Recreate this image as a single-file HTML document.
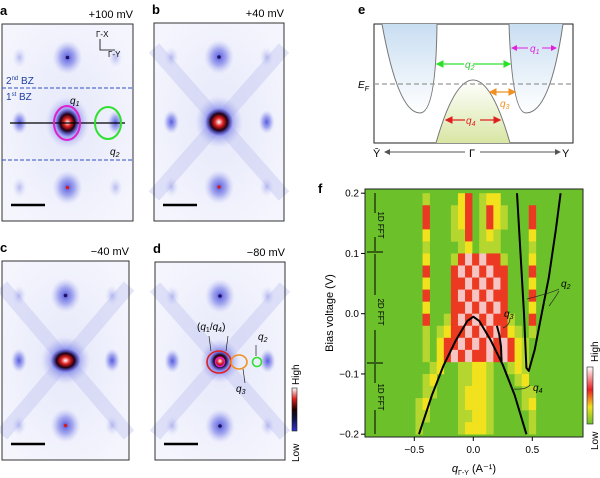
<!DOCTYPE html>
<html><head><meta charset="utf-8">
<style>
body{margin:0;background:#fff;width:600px;height:478px;overflow:hidden;font-family:"Liberation Sans",sans-serif}
svg{position:absolute;left:0;top:0}
</style></head>
<body>
<svg id="fig" width="600" height="478" viewBox="0 0 600 478" font-family="Liberation Sans, sans-serif">
<defs>
<radialGradient id="bg" cx="50%" cy="50%" r="60%"><stop offset="0" stop-color="#e6e8fa"/><stop offset="1" stop-color="#f4f5fd"/></radialGradient>
<radialGradient id="blob" cx="50%" cy="50%" r="50%"><stop offset="0" stop-color="#3b3fd8"/><stop offset="0.5" stop-color="#7d82e8" stop-opacity="0.75"/><stop offset="1" stop-color="#b8bcf2" stop-opacity="0"/></radialGradient>
<radialGradient id="core" cx="50%" cy="50%" r="50%"><stop offset="0" stop-color="#fff"/><stop offset="0.3" stop-color="#e02020"/><stop offset="0.6" stop-color="#200010"/><stop offset="1" stop-color="#2a2ad0" stop-opacity="0"/></radialGradient>
<radialGradient id="faint" cx="50%" cy="50%" r="50%"><stop offset="0" stop-color="#9094e8"/><stop offset="1" stop-color="#c8cbf4" stop-opacity="0"/></radialGradient>
<linearGradient id="cbar" x1="0" y1="1" x2="0" y2="0"><stop offset="0" stop-color="#3030d0"/><stop offset="0.3" stop-color="#101040"/><stop offset="0.5" stop-color="#200000"/><stop offset="0.75" stop-color="#e02020"/><stop offset="1" stop-color="#fff"/></linearGradient>
<linearGradient id="cbar2" x1="0" y1="1" x2="0" y2="0"><stop offset="0" stop-color="#6cc02a"/><stop offset="0.3" stop-color="#f0e020"/><stop offset="0.6" stop-color="#e82020"/><stop offset="1" stop-color="#fff"/></linearGradient>
<linearGradient id="blue" x1="0" y1="0" x2="0" y2="1"><stop offset="0" stop-color="#c9def2"/><stop offset="1" stop-color="#fff"/></linearGradient>
<linearGradient id="greenf" x1="0" y1="1" x2="0" y2="0"><stop offset="0" stop-color="#d8e6a4"/><stop offset="1" stop-color="#fff"/></linearGradient>
<marker id="ah" markerWidth="6" markerHeight="6" refX="5" refY="3" orient="auto-start-reverse"><path d="M0,0 L6,3 L0,6 z" fill="context-stroke"/></marker>
</defs>
<g id="fft"></g>
<g id="panelE">
<text x="358" y="14" font-size="13" font-weight="bold">e</text>
<rect x="374" y="24" width="199" height="119" fill="#fff" stroke="#222" stroke-width="1"/>
<path d="M382,24 Q398,113 420,113 Q436,113 437,24 Z" fill="url(#blue)"/>
<path d="M509,24 Q512,113 526,113 Q550,113 563,24 Z" fill="url(#blue)"/>
<path d="M436,143 Q454,80 473,80 Q492,80 510,143 Z" fill="url(#greenf)"/>
<path d="M382,24 Q398,113 420,113 Q436,113 437,24" fill="none" stroke="#777"/>
<path d="M509,24 Q512,113 526,113 Q550,113 563,24" fill="none" stroke="#777"/>
<path d="M436,143 Q454,80 473,80 Q492,80 510,143" fill="none" stroke="#777"/>
<line x1="374" y1="84" x2="573" y2="84" stroke="#999" stroke-dasharray="5,3" stroke-width="1.2"/>
<text x="358" y="88" font-size="10" font-style="italic">E<tspan font-size="7" dy="3">F</tspan></text>
<line x1="437" y1="64" x2="464" y2="64" stroke="#2ee02e" stroke-width="1.3" marker-start="url(#ah)"/><line x1="473" y1="64" x2="510" y2="64" stroke="#2ee02e" stroke-width="1.3" marker-end="url(#ah)"/>
<text x="465" y="68" font-size="10" font-style="italic" fill="#2ec82e">q<tspan font-size="7" dy="2">2</tspan></text>
<line x1="512" y1="48" x2="528" y2="48" stroke="#e020e0" marker-start="url(#ah)"/><line x1="542" y1="48" x2="556" y2="48" stroke="#e020e0" marker-end="url(#ah)"/>
<text x="530" y="52" font-size="10" font-style="italic" fill="#e020e0">q<tspan font-size="7" dy="2">1</tspan></text>
<line x1="490" y1="92" x2="515" y2="92" stroke="#f09020" stroke-width="1.3" marker-start="url(#ah)" marker-end="url(#ah)"/>
<text x="500" y="107" font-size="10" font-style="italic" fill="#f09020">q<tspan font-size="7" dy="2">3</tspan></text>
<line x1="446" y1="120" x2="465" y2="120" stroke="#e02020" stroke-width="1.3" marker-start="url(#ah)"/><line x1="480" y1="120" x2="500" y2="120" stroke="#e02020" stroke-width="1.3" marker-end="url(#ah)"/>
<text x="466" y="124" font-size="10" font-style="italic" fill="#e02020">q<tspan font-size="7" dy="2">4</tspan></text>
<line x1="385" y1="152" x2="465" y2="152" stroke="#555" marker-start="url(#ah)"/><line x1="480" y1="152" x2="560" y2="152" stroke="#555" marker-end="url(#ah)"/>
<text x="373" y="157" font-size="11">Ȳ</text><text x="469" y="157" font-size="11">Γ</text><text x="562" y="157" font-size="11">Y</text>
</g>
<g id="panelF">
<text x="318" y="193" font-size="13" font-weight="bold">f</text>
<g id="heat"></g>
<g id="curves"></g>
<rect x="365" y="189" width="218" height="248" fill="none" stroke="#222"/>
<g id="axes" font-size="10"></g>
<text x="0" y="0" transform="translate(333,313) rotate(-90)" text-anchor="middle" font-size="11">Bias voltage (V)</text>
<text x="474" y="472" text-anchor="middle" font-size="11"><tspan font-style="italic">q</tspan><tspan font-size="7" dy="3">Γ-Y</tspan><tspan dy="-3"> (A⁻¹)</tspan></text>
<g font-size="8" stroke="#000">
<line x1="375" y1="193" x2="375" y2="213"/><line x1="375" y1="237" x2="375" y2="251"/>
<line x1="375" y1="254" x2="375" y2="295"/><line x1="375" y1="330" x2="375" y2="362"/>
<line x1="375" y1="364" x2="375" y2="383"/><line x1="375" y1="410" x2="375" y2="434"/>
<line x1="367" y1="252" x2="383" y2="252"/><line x1="367" y1="363" x2="383" y2="363"/>
<text stroke="none" transform="translate(378,225) rotate(90)" text-anchor="middle">1D FFT</text>
<text stroke="none" transform="translate(378,312) rotate(90)" text-anchor="middle">2D FFT</text>
<text stroke="none" transform="translate(378,397) rotate(90)" text-anchor="middle">1D FFT</text>
</g>
<g font-size="10" font-style="italic">
<text x="561" y="287">q<tspan font-size="7" dy="2">2</tspan></text>
<text x="504" y="317">q<tspan font-size="7" dy="2">3</tspan></text>
<text x="533" y="391">q<tspan font-size="7" dy="2">4</tspan></text>
<path d="M527,299 Q554,292 559,289 M549,306 Q555,298 559,291 M503,328 Q510,325 510,318 M514,389 Q526,390 530,385" fill="none" stroke="#222" stroke-width="0.7"/>
</g>
<rect x="587" y="367" width="6" height="57" fill="url(#cbar2)" stroke="#222" stroke-width="0.6"/>
<text transform="translate(598,362) rotate(-90)" font-size="10">High</text>
<text transform="translate(598,450) rotate(-90)" font-size="10">Low</text>
</g>
</svg>
<script>
const NS='http://www.w3.org/2000/svg';
function mk(t,a,p){const e=document.createElementNS(NS,t);for(const k in a)e.setAttribute(k,a[k]);p.appendChild(e);return e;}
const fft=document.getElementById('fft');
const panels=[
 {id:'a',x:2,y:24,w:131,h:197,label:'+100 mV',cross:false,core:[12,14]},
 {id:'b',x:154,y:23,w:130,h:198,label:'+40 mV',cross:true,core:[14,14]},
 {id:'c',x:2,y:261,w:127,h:199,label:'−40 mV',cross:true,core:[15,12]},
 {id:'d',x:155,y:262,w:130,h:198,label:'−80 mV',cross:true,core:[10,10]}];
panels.forEach(p=>{
 const g=mk('g',{},fft);
 
 
 mk('rect',{x:p.x,y:p.y,width:p.w,height:p.h,fill:'url(#bg)'},g);
 const cx=p.x+p.w/2, cy=p.y+p.h/2;
 if(p.cross){mk('path',{d:`M${p.x},${p.y+25} L${p.x+p.w},${p.y+p.h-25} M${p.x+p.w},${p.y+25} L${p.x},${p.y+p.h-25}`,stroke:'#c4c7f2','stroke-width':14,opacity:0.45},g);}
 [[0,-65,15,17],[0,65,15,17],[-48,0,8,12],[48,0,8,12],[-48,-65,7,10],[48,-65,7,10],[-48,65,7,10],[48,65,7,10]].forEach(s=>{
  mk('ellipse',{cx:cx+s[0]*p.w/131,cy:cy+s[1],rx:s[2],ry:s[3],fill:s[0]&&s[1]?'url(#faint)':'url(#blob)',opacity:s[0]&&s[1]?0.6:0.85},g);});
 mk('circle',{cx:cx,cy:cy-65,r:1.8,fill:'#201060'},g);mk('circle',{cx:cx,cy:cy+65,r:1.8,fill:p.id=='d'?'#201060':'#d02020'},g);
 mk('ellipse',{cx:cx,cy:cy,rx:p.core[0]+10,ry:p.core[1]+12,fill:'url(#blob)'},g);
 mk('ellipse',{cx:cx,cy:cy,rx:p.core[0],ry:p.core[1],fill:'url(#core)'},g);
 mk('rect',{x:p.x,y:p.y,width:p.w,height:p.h,fill:'none',stroke:'#333','stroke-width':1},g);
 mk('line',{x1:p.x+9,y1:p.y+p.h-16,x2:p.x+43,y2:p.y+p.h-16,stroke:'#000','stroke-width':2.5},g);
 const t=mk('text',{x:p.x-2,y:p.y-9,'font-size':13,'font-weight':'bold'},g);t.textContent=p.id;
 const l=mk('text',{x:p.x+p.w,y:p.y-6,'font-size':11,'text-anchor':'end'},g);l.textContent=p.label;
});
(function(){const g=mk('g',{},fft);
 
 
 mk('line',{x1:2,y1:88,x2:133,y2:88,stroke:'#3050c0','stroke-dasharray':'4,2'},g);
 mk('line',{x1:2,y1:160,x2:133,y2:160,stroke:'#3050c0','stroke-dasharray':'4,2'},g);
 mk('line',{x1:10,y1:123,x2:125,y2:123,stroke:'#000','stroke-width':1.2},g);
 mk('ellipse',{cx:67,cy:123,rx:13,ry:17,fill:'none',stroke:'#e020d0','stroke-width':2},g);
 mk('ellipse',{cx:108,cy:123,rx:13,ry:16,fill:'none',stroke:'#30e030','stroke-width':2},g);
 let t=mk('text',{x:6,y:84,'font-size':10,fill:'#2040a0'},g);t.innerHTML='2<tspan font-size="6" dy="-4">nd</tspan><tspan dy="4"> BZ</tspan>';
 t=mk('text',{x:6,y:100,'font-size':10,fill:'#2040a0'},g);t.innerHTML='1<tspan font-size="6" dy="-4">st</tspan><tspan dy="4"> BZ</tspan>';
 t=mk('text',{x:70,y:104,'font-size':10,'font-style':'italic'},g);t.innerHTML='q<tspan font-size="7" dy="2">1</tspan>';
 t=mk('text',{x:110,y:155,'font-size':10,'font-style':'italic'},g);t.innerHTML='q<tspan font-size="7" dy="2">2</tspan>';
 mk('path',{d:'M100,39 L100,50 L115,50',fill:'none',stroke:'#000','stroke-width':0.8},g);
 t=mk('text',{x:96,y:37,'font-size':8},g);t.textContent='Γ-X';
 t=mk('text',{x:108,y:57,'font-size':8},g);t.textContent='Γ-Y';
})();
(function(){const g=mk('g',{},fft);
 
 
 mk('ellipse',{cx:219,cy:362,rx:12,ry:11,fill:'none',stroke:'#e02020','stroke-width':1.6},g);
 mk('circle',{cx:220,cy:362,r:4.5,fill:'none',stroke:'#e020d0','stroke-width':1.5},g);
 mk('ellipse',{cx:239,cy:362,rx:8,ry:7,fill:'none',stroke:'#f09020','stroke-width':1.6},g);
 mk('circle',{cx:257,cy:362,r:4.5,fill:'none',stroke:'#30e030','stroke-width':1.6},g);
 let t=mk('text',{x:197,y:330,'font-size':10},g);t.innerHTML='(<tspan font-style="italic">q</tspan><tspan font-size="7" dy="2">1</tspan><tspan dy="-2">/</tspan><tspan font-style="italic">q</tspan><tspan font-size="7" dy="2">4</tspan><tspan dy="-2">)</tspan>';
 t=mk('text',{x:258,y:340,'font-size':10,'font-style':'italic'},g);t.innerHTML='q<tspan font-size="7" dy="2">2</tspan>';
 t=mk('text',{x:236,y:392,'font-size':10,'font-style':'italic'},g);t.innerHTML='q<tspan font-size="7" dy="2">3</tspan>';
 mk('path',{d:'M209,336 L211,351 M228,336 L226,351 M256,345 L256,356 M243,369 L245,383',stroke:'#222','stroke-width':0.7,fill:'none'},g);
 mk('rect',{x:292,y:388,width:5,height:43,fill:'url(#cbar)',stroke:'#222','stroke-width':0.6},g);
 t=mk('text',{transform:'translate(299,385) rotate(-90)','font-size':10},g);t.textContent='High';
 t=mk('text',{transform:'translate(299,462) rotate(-90)','font-size':10},g);t.textContent='Low';
})();

// ---- panel f data ----
const qCols=[-0.88,-0.82,-0.76,-0.7,-0.64,-0.58,-0.52,-0.46,-0.4,-0.34,-0.28,-0.22,-0.16,-0.1,-0.04,0.02,0.08,0.14,0.2,0.26,0.32,0.38,0.44,0.5,0.56,0.62,0.68,0.74,0.8,0.86];
const vRows=[0.19,0.17,0.15,0.13,0.11,0.09,0.07,0.05,0.03,0.01,-0.01,-0.03,-0.05,-0.07,-0.09,-0.11,-0.13,-0.15,-0.17,-0.19];
const intensity=[
"000000001000023012200000000000",
"000000003000123013210003000000",
"000000003000123013210003000000",
"000000002000113012100002000000",
"000000001000012011100001000000",
"000000002000134343310002000000",
"000000003000343434330003000000",
"000000002000334343430002000000",
"000000003000343434330003000000",
"000000002000334343430002000000",
"000000003001343434331003000000",
"000000001012334343432101000000",
"000000001023343434343210000000",
"000000001023434334343210000000",
"000000000120011221001210000000",
"000000001200011221000120000000",
"000000001100012221000011000000",
"000000012000012221000012000000",
"000000011000011221000001000000",
"000000010000012221000001000000"];
const q4Q=[-0.46,-0.35,-0.25,-0.15,-0.05,0.0,0.05,0.15,0.25,0.35,0.45];
const q4V=[-0.2,-0.135,-0.085,-0.045,-0.012,-0.005,-0.012,-0.045,-0.085,-0.135,-0.2];
const q2Q=[0.37,0.4,0.43,0.45,0.47,0.52,0.58,0.64,0.7,0.74];
const q2V=[0.2,0.1,0.0,-0.09,-0.095,-0.06,0.0,0.06,0.14,0.2];
const q3Q=[0.2,0.22,0.235,0.24];
const q3V=[-0.02,-0.035,-0.055,-0.08];
const xTicks=[-0.5,0.0,0.5];
const xTickLabels=['−0.5','0.0','0.5'];
const yTicks=[-0.2,-0.1,0.0,0.1,0.2];
const yTickLabels=['−0.2','−0.1','0.0','0.1','0.2'];

const X=q=>473.3+q*118;
const Y=v=>313.7-v*602.5;
const colors=['#6cc02a','#b4d62e','#f2e21e','#ec3a22','#f7c4c4'];
const heat=document.getElementById('heat');
mk('rect',{x:365,y:189,width:218,height:248,fill:colors[0]},heat);
const dq=0.06,dv=0.02;
vRows.forEach((v,i)=>{qCols.forEach((q,j)=>{
 const k=+intensity[i][j]; if(!k)return;
 const r=mk('rect',{x:X(q-dq/2),y:Y(v+dv/2),width:X(dq)-X(0)+0.3,height:Y(0)-Y(dv)+0.3,fill:colors[k]},heat);
 
 
});});
const cg=document.getElementById('curves');
function curve(qs,vs,name){const d=qs.map((q,i)=>(i?'L':'M')+X(q).toFixed(1)+','+Y(vs[i]).toFixed(1)).join(' ');
 const p=mk('path',{d:d,fill:'none',stroke:'#000','stroke-width':2,'stroke-linejoin':'round'},cg);
 
 }
curve(q4Q,q4V,'q4-curve');curve(q2Q,q2V,'q2-curve');curve(q3Q,q3V,'q3-curve');
const ax=document.getElementById('axes');
xTicks.forEach((t,i)=>{mk('line',{x1:X(t),y1:437,x2:X(t),y2:441,stroke:'#000'},ax);
 const e=mk('text',{x:X(t),y:453,'text-anchor':'middle'},ax);e.textContent=xTickLabels[i];
 
 });
yTicks.forEach((t,i)=>{mk('line',{x1:361,y1:Y(t),x2:365,y2:Y(t),stroke:'#000'},ax);
 const e=mk('text',{x:359,y:Y(t)+3.5,'text-anchor':'end'},ax);e.textContent=yTickLabels[i];
 
 });
</script>
</body></html>
